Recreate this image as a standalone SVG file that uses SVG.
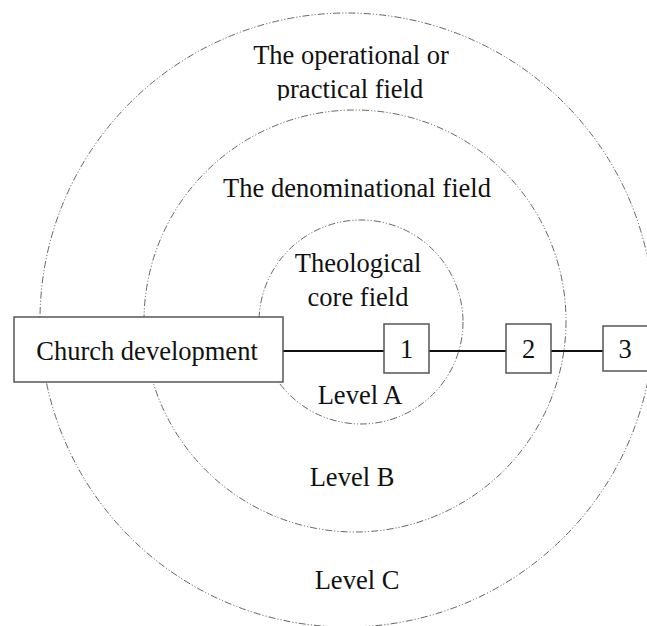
<svg xmlns="http://www.w3.org/2000/svg" width="647" height="626" viewBox="0 0 647 626">
  <style>
    .field { fill: #ffffff; stroke: #555555; stroke-width: 0.9; stroke-dasharray: 7 2 1.2 2 1.2 2; }
    .box { fill: #ffffff; stroke: #555555; stroke-width: 1.5; }
    .conn { stroke: #111111; stroke-width: 2; fill: none; }
    text { font-family: "Liberation Serif", "Times New Roman", serif; font-size: 26.5px; fill: #111111; text-anchor: middle; }
  </style>
  <defs>
    <clipPath id="clipPractical">
      <rect x="0" y="0" width="647" height="100.5"/>
    </clipPath>
  </defs>
  <rect x="0" y="0" width="647" height="626" fill="#ffffff"/>

  <g id="field-operational">
    <circle class="field" cx="347" cy="320" r="307"/>
    <text x="351" y="64">The operational or</text>
    <text x="350" y="98" clip-path="url(#clipPractical)">practical field</text>
    <text x="357" y="589">Level C</text>
  </g>

  <g id="field-denominational">
    <circle class="field" cx="355" cy="321" r="211"/>
    <text x="357" y="197">The denominational field</text>
    <text x="352" y="486">Level B</text>
  </g>

  <g id="field-theological">
    <circle class="field" cx="361" cy="322" r="102"/>
    <text x="358" y="272">Theological</text>
    <text x="358" y="306">core field</text>
    <text x="360" y="404">Level A</text>
  </g>

  <g id="connectors">
    <line class="conn" x1="283" y1="351" x2="384" y2="351"/>
    <line class="conn" x1="429" y1="351" x2="506" y2="351"/>
    <line class="conn" x1="551" y1="351" x2="603" y2="351"/>
  </g>

  <g id="church-development">
    <rect class="box" x="14" y="317" width="269" height="65"/>
    <text x="147" y="360">Church development</text>
  </g>

  <g id="box-1">
    <rect class="box" x="384" y="324" width="45" height="49"/>
    <text x="406.5" y="358">1</text>
  </g>

  <g id="box-2">
    <rect class="box" x="506" y="324" width="45" height="49"/>
    <text x="528.5" y="358">2</text>
  </g>

  <g id="box-3">
    <rect class="box" x="603" y="326" width="90" height="45"/>
    <text x="625" y="358">3</text>
  </g>
</svg>
